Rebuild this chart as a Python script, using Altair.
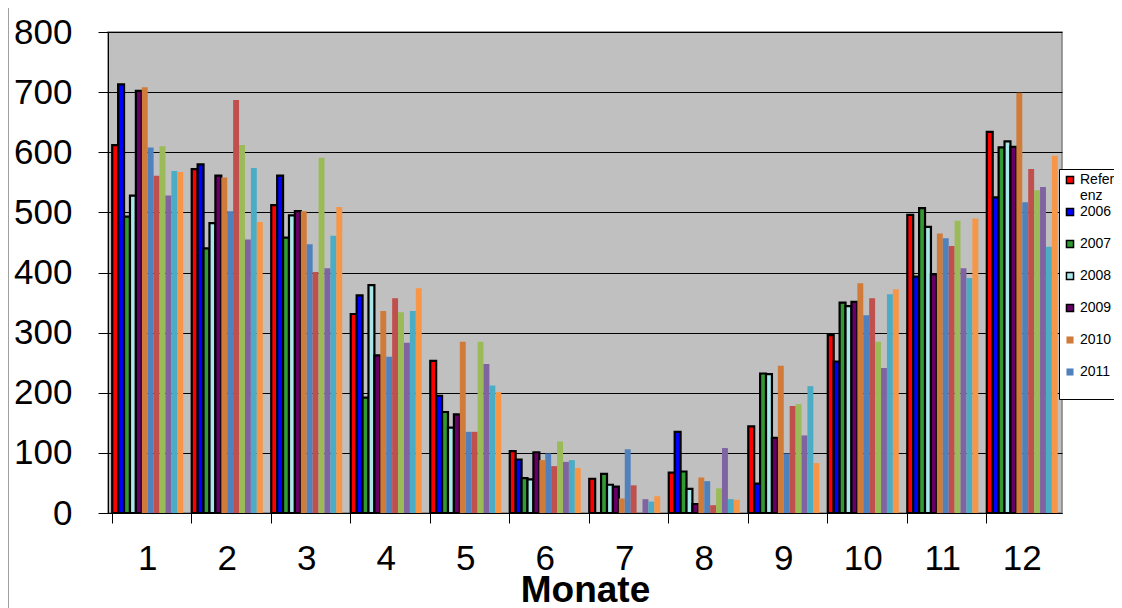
import altair as alt
import pandas as pd

months = [str(m) for m in range(1, 13)]
series = ["Referenz", "2006", "2007", "2008", "2009", "2010",
          "2011", "2012", "2013", "2014", "2015", "2016"]
colors = ["#ff0000", "#0000ff", "#339933", "#a8e8e8", "#660066", "#d07b3a",
          "#4f81bd", "#c0504d", "#9bbb59", "#8064a2", "#4bacc6", "#f79646"]
outline_colors = ["black"] * 5 + ["transparent"] * 7

values = {
    "Referenz": [612, 572, 512, 331, 253, 103, 57, 67, 144, 296, 496, 634],
    "2006":     [713, 580, 561, 362, 195, 89, 0, 135, 49, 252, 393, 525],
    "2007":     [493, 440, 458, 192, 168, 58, 65, 69, 232, 350, 507, 608],
    "2008":     [528, 482, 495, 379, 142, 56, 47, 40, 231, 344, 476, 618],
    "2009":     [702, 561, 502, 262, 164, 101, 44, 15, 125, 351, 397, 609],
    "2010":     [708, 558, 502, 336, 285, 88, 24, 59, 245, 382, 465, 699],
    "2011":     [608, 502, 447, 260, 135, 99, 106, 53, 99, 329, 457, 517],
    "2012":     [561, 687, 401, 357, 135, 78, 46, 13, 178, 357, 444, 572],
    "2013":     [610, 612, 591, 334, 285, 119, 0, 41, 181, 285, 486, 537],
    "2014":     [528, 455, 407, 283, 248, 85, 23, 108, 129, 241, 407, 542],
    "2015":     [569, 574, 461, 336, 212, 88, 19, 23, 211, 364, 391, 443],
    "2016":     [567, 484, 509, 374, 201, 75, 28, 22, 83, 372, 490, 594],
}
outlined = ["Referenz", "2006", "2007", "2008", "2009"]
legend_shown = ["Referenz", "2006", "2007", "2008", "2009", "2010", "2011"]

rows = []
for s in series:
    for m, v in zip(months, values[s]):
        rows.append({"Monat": m, "Serie": s, "Wert": v})
df = pd.DataFrame(rows)

font = "Liberation Sans"
test = "indexof(" + str(outlined) + ", datum.Serie) >= 0"


def make_legend():
    return alt.Legend(title=None, orient="none", legendX=951, legendY=137,
                      values=legend_shown, symbolType="square",
                      symbolSize=50, symbolStrokeWidth=1.5,
                      labelFontSize=14, labelFont=font, labelColor="black",
                      labelOffset=3,
                      labelExpr="datum.label == 'Referenz' ? ['Refer', 'enz'] : [datum.label, ' ']",
                      rowPadding=2, padding=4,
                      fillColor="white", strokeColor="black")


bars = alt.Chart(df).mark_bar(strokeJoin="miter").encode(
    x=alt.X("Monat:N", sort=months, title="Monate",
            scale=alt.Scale(paddingInner=0.107, paddingOuter=0.053),
            axis=alt.Axis(labelAngle=0, labelFontSize=35, labelFont=font,
                          labelColor="black", labelPadding=18, tickSize=10,
                          tickColor="black", bandPosition=0, domainColor="black",
                          titleFontSize=37, titleFont=font, titleFontWeight="bold",
                          titleColor="black", titlePadding=-4)),
    xOffset=alt.XOffset("Serie:N", sort=series, scale=alt.Scale(paddingInner=0, paddingOuter=0)),
    y=alt.Y("Wert:Q", title=None,
            scale=alt.Scale(domain=[0, 800], nice=False),
            axis=alt.Axis(values=list(range(0, 801, 100)), labelFontSize=35,
                          labelFont=font, labelColor="black", labelPadding=26,
                          tickSize=10, tickColor="black", domainColor="black",
                          gridColor="black", gridWidth=1)),
    fill=alt.Fill("Serie:N", sort=series,
                  scale=alt.Scale(domain=series, range=colors),
                  legend=make_legend()),
    stroke=alt.Stroke("Serie:N", sort=series,
                      scale=alt.Scale(domain=series, range=outline_colors),
                      legend=make_legend()),
    strokeWidth=alt.condition(test, alt.value(2.2), alt.value(0)),
)

frame = alt.Chart(alt.Data(values=[{"a": 1}])).mark_rule(
    color="#808080", strokeWidth=1.5
).encode(x=alt.value(-100), y=alt.value(-24), y2=alt.value(576))

chart = alt.layer(bars, frame).properties(
    width=954, height=481,
    padding={"left": 100, "top": 24, "right": 52, "bottom": 95},
    autosize="none",
).configure(background="white").configure_view(
    fill="#c0c0c0", stroke="#808080", strokeWidth=1.5
)

chart.save("out.html", embed_options={"renderer": "svg", "actions": False})
